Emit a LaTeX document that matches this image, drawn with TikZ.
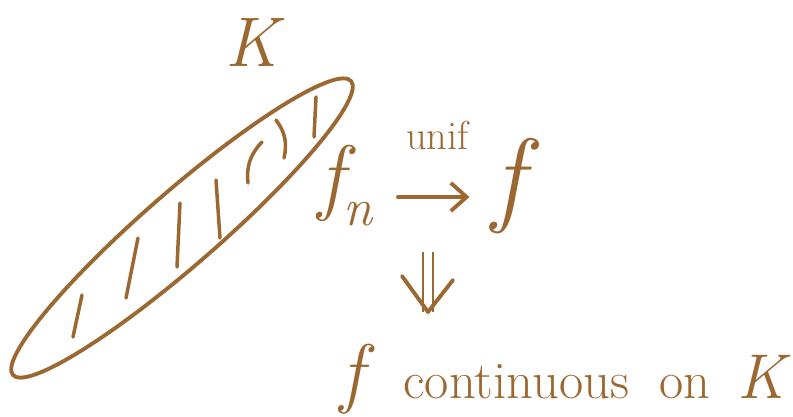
\documentclass[tikz,border=0pt]{standalone}
\usepackage{tikz}
\usetikzlibrary{arrows.meta}
\definecolor{ink}{RGB}{155,104,50}
\newcommand{\bigit}[2]{{\fontsize{#1}{#1}\selectfont\itshape #2}}

\begin{document}
\begin{tikzpicture}[
    x=0.02cm, y=-0.02cm,
    hand/.style={
        text=ink, inner sep=0pt, font=\fontsize{40}{44}\selectfont\itshape
    },
    small/.style={
        text=ink, inner sep=0pt, font=\fontsize{23}{26}\selectfont
    },
    big/.style={
        text=ink, inner sep=0pt, font=\fontsize{30}{34}\selectfont
    },
    stroke/.style={draw=ink, line width=2.2pt, line cap=round, line join=round},
    hatch/.style={stroke, line width=2pt},
    shaft/.style={
        draw=ink, line width=1.5pt, double=white, double distance=4pt
    }
]

% ---- Fixed frame, same proportions as the sketch ----
\useasboundingbox (0,0) rectangle (793,416);

% ---- The compact set K: long thin blob, hatched inside ----
\node[hand] (K) at (252,42) {K};
\draw[stroke, rotate around={41:(182,228)}] (182,228) ellipse [x radius=224, y radius=37];

\draw[hatch] (82,295) -- (73,337);
\draw[hatch] (138,238) -- (126,298);
\draw[hatch] (180,203) -- (177,267);
\draw[hatch] (216,180) -- (220,238);
\draw[hatch] (262,142) to[bend right=25] (248,183);
\draw[hatch] (276,120) to[bend left=25] (284,158);
\draw[hatch] (316,97) -- (314,137);

% ---- Uniform convergence f_n -> f ----
\node[hand, anchor=base west] (fn) at (318,204)
    {\bigit{48}{f}\raisebox{-0.3em}{\bigit{30}{n}}};
\node[hand, anchor=base west] (f)  at (492,212) {\bigit{60}{f}};
\draw[stroke, -{Straight Barb[length=9pt, width=16pt]},
      shorten <=0.5cm, shorten >=0.45cm]
    (fn.east |- 0,197) -- node[small, above=0.9cm, xshift=0.1cm] (unif) {unif} (f.west |- 0,197);

% ---- Implication down to the conclusion ----
\coordinate (dtop) at (428,252);
\coordinate (dbot) at (428,312);
\draw[shaft] (dtop) -- (dbot);
\draw[stroke] (dbot) ++(-26,-36) -- (dbot) -- ++(25,-32);

\node[big, anchor=base west] (cont) at (340,398)
    {\bigit{44}{f}\hspace{0.8cm}continuous\hspace{0.6cm}on\hspace{0.55cm}\bigit{36}{K}};

\end{tikzpicture}
\end{document}
